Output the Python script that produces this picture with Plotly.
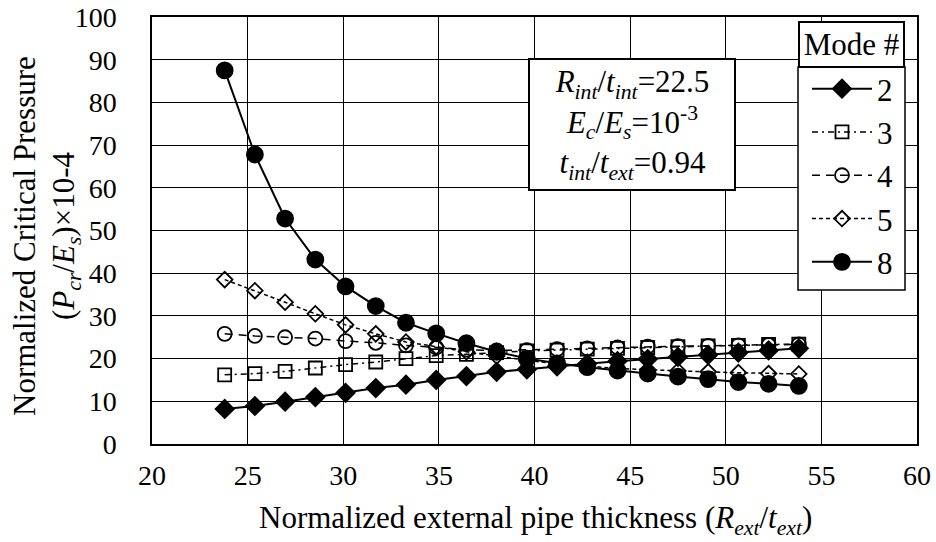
import plotly.graph_objects as go

x_vals = [23.80, 25.38, 26.96, 28.54, 30.12, 31.70, 33.28, 34.86, 36.44, 38.02,
          39.60, 41.18, 42.76, 44.34, 45.92, 47.50, 49.08, 50.66, 52.24, 53.82]

mode2 = [8.2, 8.9, 9.9, 11.0, 12.0, 13.1, 13.9, 15.0, 15.9, 16.9,
         17.5, 18.2, 18.8, 19.4, 19.9, 20.4, 20.9, 21.4, 21.9, 22.4]
mode3 = [16.2, 16.5, 17.0, 17.8, 18.6, 19.2, 20.0, 20.7, 21.0, 21.4,
         21.8, 22.0, 22.2, 22.4, 22.6, 22.8, 23.0, 23.1, 23.3, 23.4]
mode4 = [25.8, 25.3, 25.0, 24.7, 24.1, 23.7, 23.1, 22.6, 22.1, 21.9,
         22.0, 22.2, 22.4, 22.6, 22.8, 22.9, 23.0, 23.1, 23.2, 23.3]
mode5 = [38.5, 35.9, 33.2, 30.5, 27.9, 25.8, 23.9, 22.8, 21.6, 20.6,
         19.6, 18.8, 18.2, 17.7, 17.4, 17.1, 16.9, 16.7, 16.5, 16.4]
mode8 = [87.5, 67.8, 52.8, 43.2, 36.9, 32.3, 28.4, 25.9, 23.6, 21.6,
         20.0, 18.9, 18.0, 17.2, 16.5, 15.8, 15.2, 14.5, 14.1, 13.6]

x_ticks = [20, 25, 30, 35, 40, 45, 50, 55, 60]
y_ticks = [0, 10, 20, 30, 40, 50, 60, 70, 80, 90, 100]

FONT = "Liberation Serif"
TXT = 31
TICK = 28
W, H = 936, 542
L, R, T, B = 152, 19, 17, 98
PW, PH = W - L - R, H - T - B

def px_x(p):
    return (p - L) / PW

def px_y(p):
    return (H - B - p) / PH

fig = go.Figure()

series = [
    ("2", mode2, "solid", "diamond", 14, 2.0),
    ("3", mode3, "6px,4px,2px,4px", "square-open", 13, 1.5),
    ("4", mode4, "8px,6px", "circle-open", 14, 1.5),
    ("5", mode5, "4px,3px", "diamond-open", 12, 1.5),
    ("8", mode8, "solid", "circle", 16, 2.0),
]
for name, ys, dash, sym, size, lw in series:
    fig.add_trace(go.Scatter(
        x=x_vals, y=ys, name=name, mode="lines+markers",
        legendgroup=name,
        line=dict(color="black", width=lw, dash=dash),
        marker=dict(symbol=sym, size=size, color="black",
                    line=dict(color="black", width=1.8)),
    ))

axis_common = dict(
    showline=True, linecolor="black", linewidth=1.5, mirror=True,
    showgrid=True, gridcolor="black", gridwidth=1.3,
    zeroline=False, ticks="", ticklabeloverflow="allow",
    tickfont=dict(family=FONT, size=TICK, color="black"),
)

fig.update_xaxes(range=[20, 60], tickvals=x_ticks, ticklabelstandoff=6, **axis_common)
fig.update_yaxes(range=[0, 100], tickvals=y_ticks, ticklabelstandoff=28, **axis_common)

fig.add_annotation(
    xref="paper", yref="paper", x=px_x(632), y=px_y(124.5),
    xanchor="center", yanchor="middle", showarrow=False,
    text=("<i>R<sub>int</sub></i>/<i>t<sub>int</sub></i>=22.5<br>"
          "<i>E<sub>c</sub></i>/<i>E<sub>s</sub></i>=10<sup>-3</sup><br>"
          "<i>t<sub>int</sub></i>/<i>t<sub>ext</sub></i>=0.94"),
    font=dict(family=FONT, size=TXT, color="black"),
    bgcolor="white", bordercolor="black", borderwidth=2,
    width=204, height=129, borderpad=0, align="center",
)

# axis titles
fig.add_annotation(
    xref="paper", yref="paper", x=px_x(24), y=px_y(236),
    xanchor="center", yanchor="middle", showarrow=False, textangle=-90,
    text="Normalized Critical Pressure",
    font=dict(family=FONT, size=TXT, color="black"),
)
fig.add_annotation(
    xref="paper", yref="paper", x=px_x(66), y=px_y(236),
    xanchor="center", yanchor="middle", showarrow=False, textangle=-90,
    text="(<i>P<sub>cr</sub></i>/<i>E<sub>s</sub></i>)×10-4",
    font=dict(family=FONT, size=TXT, color="black"),
)
fig.add_annotation(
    xref="paper", yref="paper", x=px_x(535), y=px_y(520),
    xanchor="center", yanchor="middle", showarrow=False,
    text="Normalized external pipe thickness (<i>R<sub>ext</sub></i>/<i>t<sub>ext</sub></i>)",
    font=dict(family=FONT, size=TXT, color="black"),
)

# legend frame (white box behind the legend items)
fig.add_shape(type="rect", xref="paper", yref="paper",
              x0=px_x(798), x1=px_x(905), y0=px_y(290), y1=px_y(67),
              line=dict(color="black", width=1.5), fillcolor="white", layer="above")

# legend title box
fig.add_annotation(
    xref="paper", yref="paper", x=px_x(851.5), y=px_y(44.5),
    xanchor="center", yanchor="middle", showarrow=False,
    text="Mode #",
    font=dict(family=FONT, size=TXT, color="black"),
    bgcolor="white", bordercolor="black", borderwidth=2,
    width=103, height=43, borderpad=0,
)

fig.update_layout(
    width=W, height=H,
    margin=dict(l=L, r=R, t=T, b=B, autoexpand=False),
    paper_bgcolor="white", plot_bgcolor="white",
    font=dict(family=FONT, size=TXT, color="black"),
    showlegend=True,
    legend=dict(
        x=px_x(807), y=px_y(62), xanchor="left", yanchor="top",
        bgcolor="rgba(0,0,0,0)", borderwidth=0,
        font=dict(family=FONT, size=TXT, color="black"),
        tracegroupgap=0, itemwidth=60,
    ),
)

fig.write_html("out.html",
               config={"displayModeBar": False},
               post_script="document.body.style.margin='0px';")
